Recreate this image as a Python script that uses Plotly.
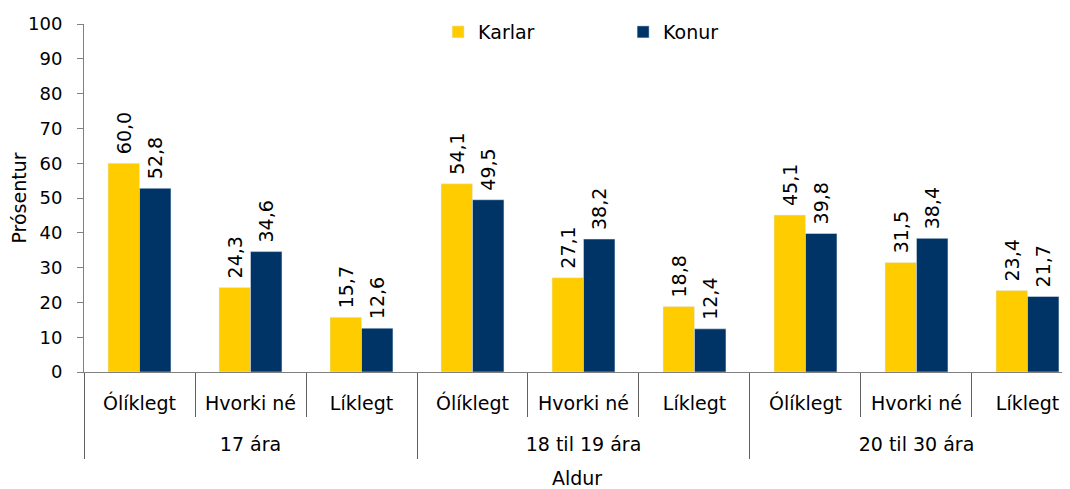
import plotly.graph_objects as go

groups = ["17 ára", "18 til 19 ára", "20 til 30 ára"]
answers = ["Ólíklegt", "Hvorki né", "Líklegt"]
karlar = [60.0, 24.3, 15.7, 54.1, 27.1, 18.8, 45.1, 31.5, 23.4]
konur = [52.8, 34.6, 12.6, 49.5, 38.2, 12.4, 39.8, 38.4, 21.7]
y_ticks = list(range(0, 101, 10))

inner_labels = [a for _ in groups for a in answers]
pos = list(range(len(inner_labels)))
n_ans = len(answers)
group_centers = [i * n_ans + (n_ans - 1) / 2 for i in range(len(groups))]

def fmt(vals):
    return ["\u00a0" + f"{v:.1f}".replace(".", ",") for v in vals]

FONT = "Verdana, DejaVu Sans, sans-serif"
FS = 19
XR = [-0.5, 8.383]

fig = go.Figure()
fig.add_trace(go.Bar(name="Karlar", x=pos, y=karlar, marker_color="#FFCC00",
                     text=fmt(karlar), textposition="outside", textangle=-90,
                     constraintext="none",
                     textfont=dict(size=FS, color="#000000", family=FONT), cliponaxis=False))
fig.add_trace(go.Bar(name="Konur", x=pos, y=konur, marker_color="#003366",
                     text=fmt(konur), textposition="outside", textangle=-90,
                     constraintext="none",
                     textfont=dict(size=FS, color="#000000", family=FONT), cliponaxis=False))
# invisible helper trace so the group-label axis (x2) is drawn
fig.add_trace(go.Scatter(x=group_centers, y=[None] * len(groups), xaxis="x2", yaxis="y",
                         mode="markers", showlegend=False, hoverinfo="skip"))

fig.update_layout(
    width=1062, height=481,
    margin=dict(l=76, r=0, t=16, b=117, autoexpand=False),
    plot_bgcolor="white", paper_bgcolor="white",
    font=dict(family=FONT, size=FS, color="#000000"),
    barmode="group", bargap=0.433, bargroupgap=0,
    showlegend=True,
    legend=dict(orientation="h", xref="container", yref="container",
                x=0.405, y=0.950, xanchor="left", yanchor="middle",
                entrywidth=140, entrywidthmode="pixels", font=dict(size=FS),
                bgcolor="rgba(0,0,0,0)"),
    xaxis=dict(type="linear", range=XR, tickmode="array", tickvals=pos, ticktext=inner_labels,
               showline=True, linecolor="#808080", linewidth=1,
               ticks="", ticklabelstandoff=14,
               minor=dict(tick0=-0.5, dtick=1, ticks="outside", ticklen=44,
                          tickcolor="#606060", tickwidth=1, showgrid=False),
               tickfont=dict(size=FS), showgrid=False, zeroline=False),
    xaxis2=dict(type="linear", range=XR, overlaying="x", anchor="y", side="bottom",
                tickmode="array", tickvals=group_centers, ticktext=groups,
                ticks="", ticklabelstandoff=59, showline=False,
                minor=dict(tick0=-0.5, dtick=n_ans, ticks="outside", ticklen=86,
                           tickcolor="#606060", tickwidth=1, showgrid=False),
                tickfont=dict(size=FS), showgrid=False, zeroline=False,
                title=dict(text="Aldur", font=dict(size=FS), standoff=17)),
    yaxis=dict(range=[0, 100], tickvals=y_ticks, showline=True, linecolor="#808080", linewidth=1,
               ticks="outside", ticklen=6, tickcolor="#808080", showgrid=False,
               ticklabelstandoff=11,
               tickfont=dict(size=18), zeroline=False,
               title=dict(text="Prósentur", font=dict(size=FS), standoff=1)),
)

fig.write_html("out.html")
